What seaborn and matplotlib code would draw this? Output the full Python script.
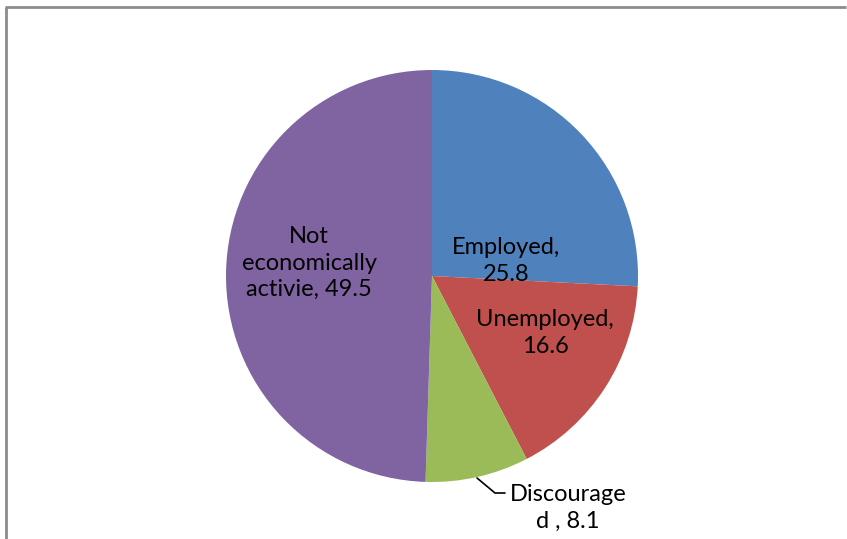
import matplotlib
matplotlib.use("Agg")
import matplotlib.pyplot as plt
import seaborn as sns
from matplotlib.lines import Line2D

sns.set_theme(style="white")
plt.rcParams['font.family'] = ['Lato', 'DejaVu Sans']

categories = ["Employed", "Unemployed", "Discouraged", "Not economically activie"]
values = [25.8, 16.6, 8.1, 49.5]
labels = ["Employed,\n25.8", "Unemployed,\n16.6", "Discourage\nd , 8.1", "Not\neconomically\nactivie, 49.5"]
colors = ["#4F81BD", "#C0504D", "#9BBB59", "#8064A2"]

W, H = 847, 539
fig = plt.figure(figsize=(W / 100, H / 100), dpi=100)
fig.patch.set_facecolor("white")
fig.patch.set_edgecolor("white")
fig.patch.set_linewidth(0)

cx, cy, r = 432, 276, 206
ax = fig.add_axes([(cx - r) / W, (H - cy - r) / H, 2 * r / W, 2 * r / H])
ax.pie(values, colors=colors, startangle=90, counterclock=False,
       wedgeprops=dict(linewidth=0))
ax.set_xlim(-1, 1)
ax.set_ylim(-1, 1)
ax.axis("off")

def px(x, y):
    return ((x - cx) / r, (cy - y) / r)

fs = 17
pos = [(506, 261), (545, 333), (568, 508), (309, 263)]
for lab, (x, y) in zip(labels, pos):
    ax.text(*px(x, y), lab, ha="center", va="center", fontsize=fs,
            linespacing=1.32, color="black", clip_on=False)

# leader line for Discouraged
pts = [px(477, 478), px(495, 493), px(505, 493)]
ax.plot([p[0] for p in pts], [p[1] for p in pts], color="black", lw=1.2,
        clip_on=False)

# chart frame (left and top edges only visible)
fx, fy = 6 / W, 1 - 7 / H
fig.add_artist(Line2D([fx, fx], [0, fy], transform=fig.transFigure,
                      color="#8c8c8c", lw=2, solid_capstyle="butt"))
fig.add_artist(Line2D([fx - 1 / W, (W - 1) / W], [fy, fy], transform=fig.transFigure,
                      color="#8c8c8c", lw=2, solid_capstyle="butt"))

fig.savefig("out.png", dpi=100, facecolor="white", edgecolor="white")
